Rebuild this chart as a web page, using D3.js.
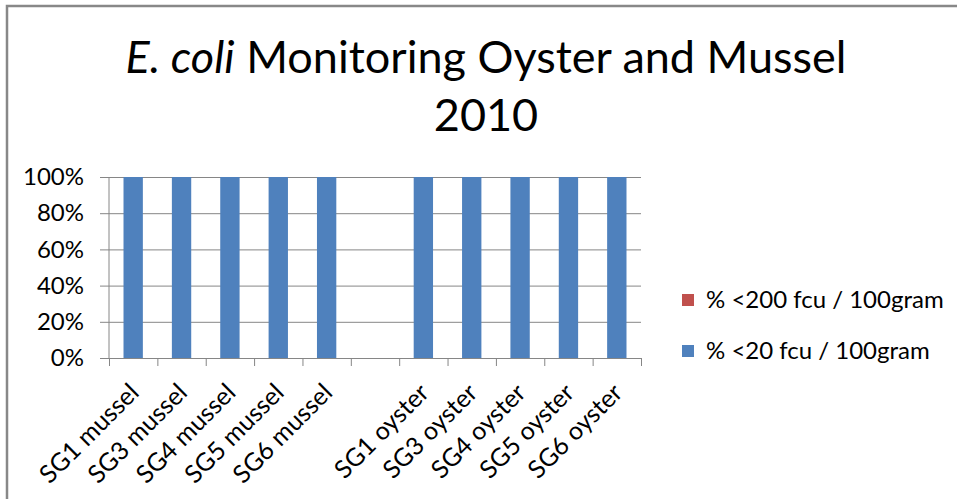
<!DOCTYPE html>
<html>
<head>
<meta charset="utf-8">
<script src="https://cdn.jsdelivr.net/npm/d3@7"></script>
<style>
  body { margin: 0; background: #fff; }
  text { font-family: Lato, "Open Sans", sans-serif; fill: #000; }
</style>
</head>
<body>
<svg id="chart" width="957" height="499"></svg>
<script>
// categories (blank slot between mussel and oyster groups)
const categories = ["SG1 mussel", "SG3 mussel", "SG4 mussel", "SG5 mussel", "SG6 mussel", "",
  "SG1 oyster", "SG3 oyster", "SG4 oyster", "SG5 oyster", "SG6 oyster"];
const below20 = [100, 100, 100, 100, 100, null, 100, 100, 100, 100, 100];
const below200 = [0, 0, 0, 0, 0, null, 0, 0, 0, 0, 0];
const seriesNames = ["% <20 fcu / 100gram", "% <200 fcu / 100gram"];
const seriesColors = ["#4f81bd", "#c0504d"];
const yTicks = [0, 20, 40, 60, 80, 100];
const titleItalic = "E. coli";
const titleRest = " Monitoring Oyster and Mussel";
const titleYear = "2010";

const svg = d3.select("#chart");
const plotLeft = 109, plotRight = 641, plotTop = 177, plotBottom = 358;
const labelSize = "24px";

svg.append("rect").attr("width", 957).attr("height", 499).attr("fill", "#fff");

// frame
svg.append("path")
  .attr("d", "M7,499V6H957")
  .attr("fill", "none")
  .attr("stroke", "#888")
  .attr("stroke-width", 2.5);

// title
const title = svg.append("text")
  .attr("x", 486).attr("y", 73)
  .attr("text-anchor", "middle")
  .style("font-size", "45px");
title.append("tspan").style("font-style", "italic").text(titleItalic);
title.append("tspan").text(titleRest);
svg.append("text")
  .attr("x", 486).attr("y", 131)
  .attr("text-anchor", "middle")
  .style("font-size", "45px")
  .text(titleYear);

const x = d3.scaleBand().domain(d3.range(categories.length)).range([plotLeft, plotRight]).padding(0);
const xEdge = d3.scaleLinear().domain([0, categories.length]).range([plotLeft, plotRight]);
const y = d3.scaleLinear().domain([0, 100]).range([plotBottom, plotTop]);

// gridlines
svg.append("g")
  .attr("transform", `translate(${plotLeft},0)`)
  .call(d3.axisLeft(y).tickValues(yTicks).tickSize(-(plotRight - plotLeft)).tickFormat(""))
  .call(g => g.select(".domain").remove())
  .call(g => g.selectAll("line").attr("stroke", "#868686"));

// y axis
svg.append("g")
  .attr("transform", `translate(${plotLeft},0)`)
  .call(d3.axisLeft(y).tickValues(yTicks).tickSize(9).tickPadding(16).tickFormat(d => d + "%"))
  .call(g => g.select(".domain").attr("stroke", "#868686").attr("d", `M0,${plotBottom}V${plotTop}`))
  .call(g => g.selectAll("line").attr("stroke", "#868686"))
  .call(g => g.selectAll("text").style("font-size", labelSize).style("font-family", "Lato, sans-serif").attr("fill", "#000"));

// stacked bars
const rows = categories.map((c, i) => ({ i, s0: below20[i], s1: below200[i] }));
const stack = d3.stack().keys(["s0", "s1"]).value((d, k) => d[k] || 0);
const layers = stack(rows);
const barW = x.bandwidth() * 0.4;

svg.append("g").selectAll("g")
  .data(layers)
  .join("g")
  .attr("fill", (d, k) => seriesColors[k])
  .selectAll("rect")
  .data(d => d.filter(p => p[1] - p[0] > 0))
  .join("rect")
  .attr("x", p => x(p.data.i) + (x.bandwidth() - barW) / 2)
  .attr("width", barW)
  .attr("y", p => y(p[1]))
  .attr("height", p => y(p[0]) - y(p[1]));

// x axis
svg.append("g")
  .attr("transform", `translate(0,${plotBottom})`)
  .call(d3.axisBottom(xEdge).tickValues(d3.range(categories.length + 1)).tickSize(8).tickFormat(""))
  .call(g => g.selectAll("line, .domain").attr("stroke", "#868686"));

// rotated category labels
svg.append("g").selectAll("text")
  .data(categories)
  .join("text")
  .attr("transform", (d, i) => `translate(${x(i) + x.bandwidth() / 2 + 1},388) rotate(-45)`)
  .attr("text-anchor", "end")
  .attr("dy", "0.35em")
  .style("font-size", "25px")
  .text(d => d);

// legend (top entry = stacked top series)
const legendItems = [1, 0];
const lg = svg.append("g").selectAll("g")
  .data(legendItems)
  .join("g")
  .attr("transform", (k, j) => `translate(682,${294 + j * 51})`);
lg.append("rect").attr("width", 12).attr("height", 12).attr("fill", k => seriesColors[k]);
lg.append("text")
  .attr("x", 24).attr("y", 6).attr("dy", "0.35em")
  .style("font-size", labelSize)
  .text(k => seriesNames[k]);
</script>
</body>
</html>
